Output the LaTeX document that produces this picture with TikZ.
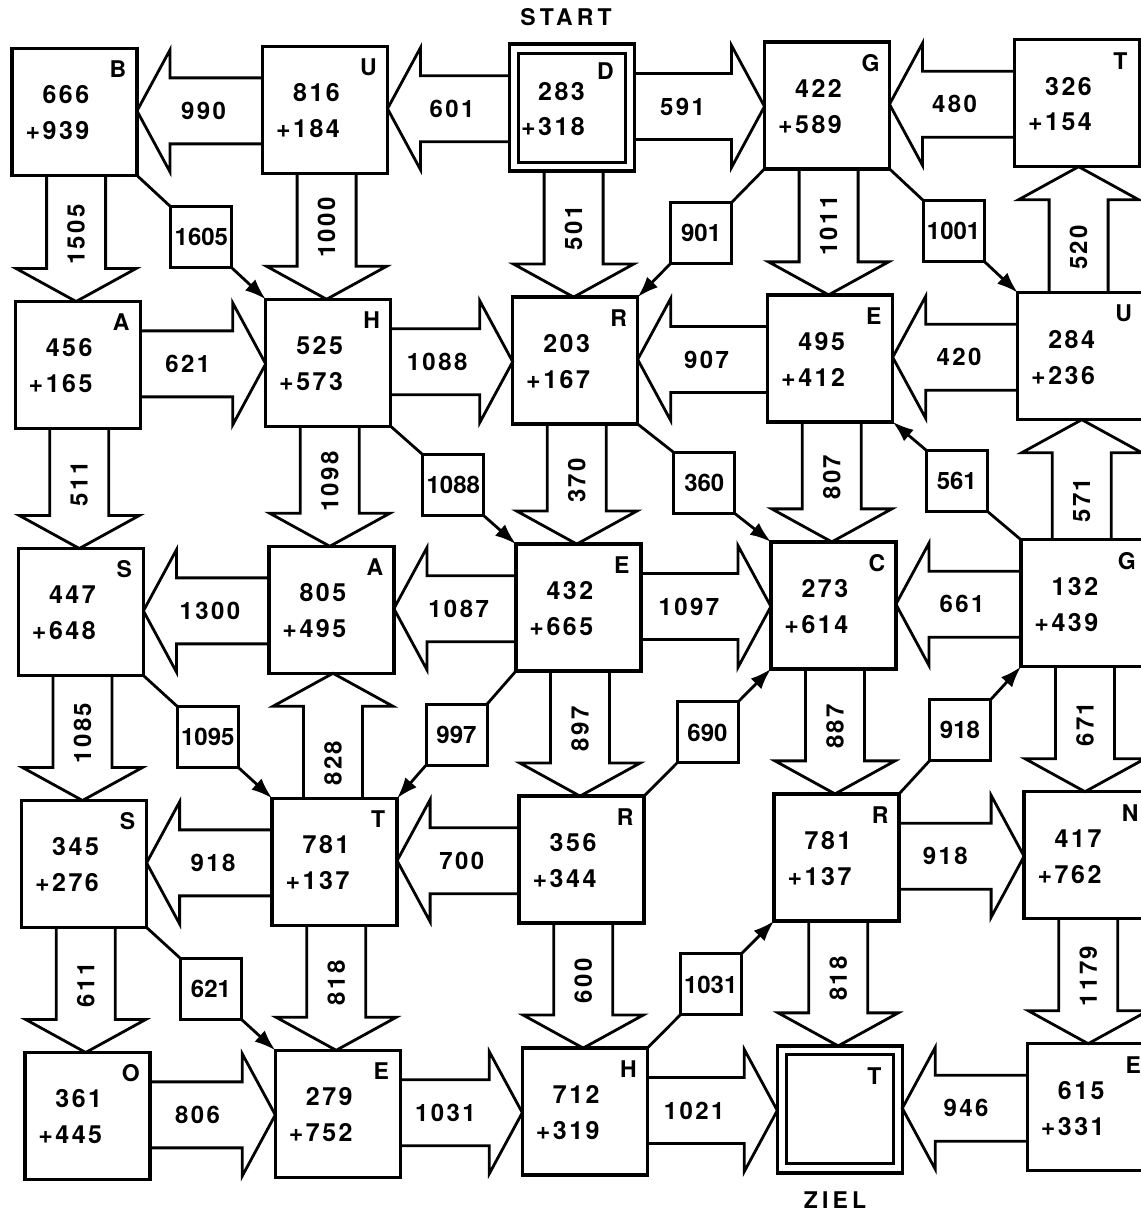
\documentclass[tikz,border=0pt]{standalone}
\usepackage{fontspec}
\setmainfont{TeX Gyre Heros}
\newfontfamily\spcfont[LetterSpace=10]{TeX Gyre Heros}
\newfontfamily\widefont[LetterSpace=18]{TeX Gyre Heros}
\usetikzlibrary{calc,arrows.meta}

\newcommand\GBox[5]{%
  \node[box] (#1) at (#2) {};
  \node[ltr] (#1L) at ($(#1.north east)+(-19,-21)$) {#3};
  \node[num,anchor=east] (#1A) at ($(#1.center)+(15,17)$) {#4};
  \node[num,anchor=east] (#1B) at ($(#1.center)+(15,-19)$) {#5};}

% right-pointing block arrow
\newcommand\ArrR[4]{%
  \draw[blk] let \p1=(#1.east), \p2=(#2.west), \n1={(\y1+\y2)/2}, \n2={\x1+#4*(\x2-\x1)} in
   (\x1,\n1+33) -- (\x2-33,\n1+33) -- (\x2-33,\n1+61) -- (\x2,\n1) -- (\x2-33,\n1-61) -- (\x2-33,\n1-33) -- (\x1,\n1-33)
   (\n2,\n1) node[lab] (#1#2) {#3};}
% left-pointing block arrow
\newcommand\ArrL[4]{%
  \draw[blk] let \p1=(#1.west), \p2=(#2.east), \n1={(\y1+\y2)/2}, \n2={\x1+#4*(\x2-\x1)} in
   (\x1,\n1+33) -- (\x2+33,\n1+33) -- (\x2+33,\n1+61) -- (\x2,\n1) -- (\x2+33,\n1-61) -- (\x2+33,\n1-33) -- (\x1,\n1-33)
   (\n2,\n1) node[lab] (#1#2) {#3};}
% down-pointing block arrow
\newcommand\ArrD[4]{%
  \draw[blk] let \p1=(#1.south), \p2=(#2.north), \n1={(\x1+\x2)/2}, \n2={\y1+#4*(\y2-\y1)} in
   (\n1-29.5,\y1) -- (\n1-29.5,\y2+33) -- (\n1-60,\y2+33) -- (\n1,\y2) -- (\n1+60,\y2+33) -- (\n1+29.5,\y2+33) -- (\n1+29.5,\y1)
   (\n1,\n2) node[lab,rotate=90] (#1#2) {#3};}
% up-pointing block arrow
\newcommand\ArrU[4]{%
  \draw[blk] let \p1=(#1.north), \p2=(#2.south), \n1={(\x1+\x2)/2}, \n2={\y1+#4*(\y2-\y1)} in
   (\n1-29.5,\y1) -- (\n1-29.5,\y2-33) -- (\n1-60,\y2-33) -- (\n1,\y2) -- (\n1+60,\y2-33) -- (\n1+29.5,\y2-33) -- (\n1+29.5,\y1)
   (\n1,\n2) node[lab,rotate=90] (#1#2) {#3};}
% diagonal connector through a small labelled box
\newcommand\Diag[6]{%
  \node[lbox] (#3) at ($(#1)!0.5!(#2)$) {#4};
  \draw[conn] (#1) -- (#3.#5);
  \draw[conn,tipped] (#3.#6) -- (#2);}

\begin{document}
\begin{tikzpicture}[x=1pt,y=1pt,
  box/.style={draw, line width=3.4pt, minimum width=125pt, minimum height=127pt, inner sep=0pt, outer sep=0pt},
  innerbox/.style={draw, line width=3pt, minimum width=107pt, minimum height=109pt, inner sep=0pt, outer sep=0pt},
  ltr/.style={font=\fontsize{23}{23}\selectfont\bfseries, inner sep=0pt},
  num/.style={font=\spcfont\fontsize{25}{25}\selectfont\bfseries, inner sep=0pt},
  lab/.style={font=\spcfont\fontsize{24}{24}\selectfont\bfseries, inner sep=0pt},
  blk/.style={line width=2.8pt, line join=miter},
  lbox/.style={draw, line width=3pt, minimum size=61pt, inner sep=0pt, outer sep=0pt, font=\fontsize{24}{24}\selectfont\bfseries},
  conn/.style={line width=2.8pt},
  tipped/.style={-{Latex[length=21pt,width=15pt]}},
  title/.style={font=\widefont\fontsize{23}{23}\selectfont\bfseries, inner sep=0pt},
]
\useasboundingbox (0,0) rectangle (1141,1211);
\clip (0,0) rectangle (1141,1211);

\foreach \i/\Y in {0/112,1/365,2/612,3/864,4/1116}{
  \foreach \j/\X in {0/74.5,1/325,2/572,3/827,4/1077}{
    \coordinate (c\i\j) at ({\X+3.2*\i},{1211-\Y+2.2*\j});
  }
}

% ---- boxes ----
\GBox{b00}{c00}{B}{666}{+939}
\GBox{b01}{c01}{U}{816}{+184}
\node[box] (b02) at (c02) {};
\node[innerbox] (b02i) at (c02) {};
\node[ltr] (b02L) at ($(b02.north east)+(-29,-27)$) {D};
\node[num,anchor=east] (b02A) at ($(b02.center)+(13,16)$) {283};
\node[num,anchor=east] (b02B) at ($(b02.center)+(13,-19)$) {+318};
\GBox{b03}{c03}{G}{422}{+589}
\GBox{b04}{c04}{T}{326}{+154}

\GBox{b10}{c10}{A}{456}{+165}
\GBox{b11}{c11}{H}{525}{+573}
\GBox{b12}{c12}{R}{203}{+167}
\GBox{b13}{c13}{E}{495}{+412}
\GBox{b14}{c14}{U}{284}{+236}

\GBox{b20}{c20}{S}{447}{+648}
\GBox{b21}{c21}{A}{805}{+495}
\GBox{b22}{c22}{E}{432}{+665}
\GBox{b23}{c23}{C}{273}{+614}
\GBox{b24}{c24}{G}{132}{+439}

\GBox{b30}{c30}{S}{345}{+276}
\GBox{b31}{c31}{T}{781}{+137}
\GBox{b32}{c32}{R}{356}{+344}
\GBox{b33}{c33}{R}{781}{+137}
\GBox{b34}{c34}{N}{417}{+762}

\GBox{b40}{c40}{O}{361}{+445}
\GBox{b41}{c41}{E}{279}{+752}
\GBox{b42}{c42}{H}{712}{+319}
\node[box] (b43) at (c43) {};
\node[innerbox] (b43i) at (c43) {};
\node[ltr] (b43L) at ($(b43.north east)+(-28,-30)$) {T};
\GBox{b44}{c44}{E}{615}{+331}

\node[title] (start) at (566,1194) {START};
\node[title] (ziel) at (835,11) {ZIEL};

% ---- horizontal block arrows ----
\ArrL{b01}{b00}{990}{0.47}
\ArrL{b02}{b01}{601}{0.47}
\ArrR{b02}{b03}{591}{0.37}
\ArrL{b04}{b03}{480}{0.48}

\ArrR{b10}{b11}{621}{0.38}
\ArrR{b11}{b12}{1088}{0.38}
\ArrL{b13}{b12}{907}{0.47}
\ArrL{b14}{b13}{420}{0.47}

\ArrL{b21}{b20}{1300}{0.47}
\ArrL{b22}{b21}{1087}{0.47}
\ArrR{b22}{b23}{1097}{0.37}
\ArrL{b24}{b23}{661}{0.47}

\ArrL{b31}{b30}{918}{0.47}
\ArrL{b32}{b31}{700}{0.47}
\ArrR{b33}{b34}{918}{0.37}

\ArrR{b40}{b41}{806}{0.38}
\ArrR{b41}{b42}{1031}{0.37}
\ArrR{b42}{b43}{1021}{0.36}
\ArrL{b44}{b43}{946}{0.49}

% ---- vertical block arrows ----
\ArrD{b00}{b10}{1505}{0.47}
\ArrD{b01}{b11}{1000}{0.43}
\ArrD{b02}{b12}{501}{0.45}
\ArrD{b03}{b13}{1011}{0.45}
\ArrU{b14}{b04}{520}{0.36}

\ArrD{b10}{b20}{511}{0.46}
\ArrD{b11}{b21}{1098}{0.46}
\ArrD{b12}{b22}{370}{0.47}
\ArrD{b13}{b23}{807}{0.46}
\ArrU{b24}{b14}{571}{0.33}

\ArrD{b20}{b30}{1085}{0.46}
\ArrU{b31}{b21}{828}{0.28}
\ArrD{b22}{b32}{897}{0.46}
\ArrD{b23}{b33}{887}{0.46}
\ArrD{b24}{b34}{671}{0.46}

\ArrD{b30}{b40}{611}{0.46}
\ArrD{b31}{b41}{818}{0.46}
\ArrD{b32}{b42}{600}{0.46}
\ArrD{b33}{b43}{818}{0.46}
\ArrD{b34}{b44}{1179}{0.46}

% ---- diagonal connectors ----
\Diag{b00.south east}{b11.north west}{d1}{1605}{north west}{south east}
\Diag{b03.south west}{b12.north east}{d2}{901}{north east}{south west}
\Diag{b03.south east}{b14.north west}{d3}{1001}{north west}{south east}
\Diag{b11.south east}{b22.north west}{d4}{1088}{north west}{south east}
\Diag{b12.south east}{b23.north west}{d5}{360}{north west}{south east}
\Diag{b24.north west}{b13.south east}{d6}{561}{south east}{north west}
\Diag{b20.south east}{b31.north west}{d7}{1095}{north west}{south east}
\Diag{b22.south west}{b31.north east}{d8}{997}{north east}{south west}
\Diag{b32.north east}{b23.south west}{d9}{690}{south west}{north east}
\Diag{b33.north east}{b24.south west}{d10}{918}{south west}{north east}
\Diag{b30.south east}{b41.north west}{d11}{621}{north west}{south east}
\Diag{b42.north east}{b33.south west}{d12}{1031}{south west}{north east}
\end{tikzpicture}
\end{document}
